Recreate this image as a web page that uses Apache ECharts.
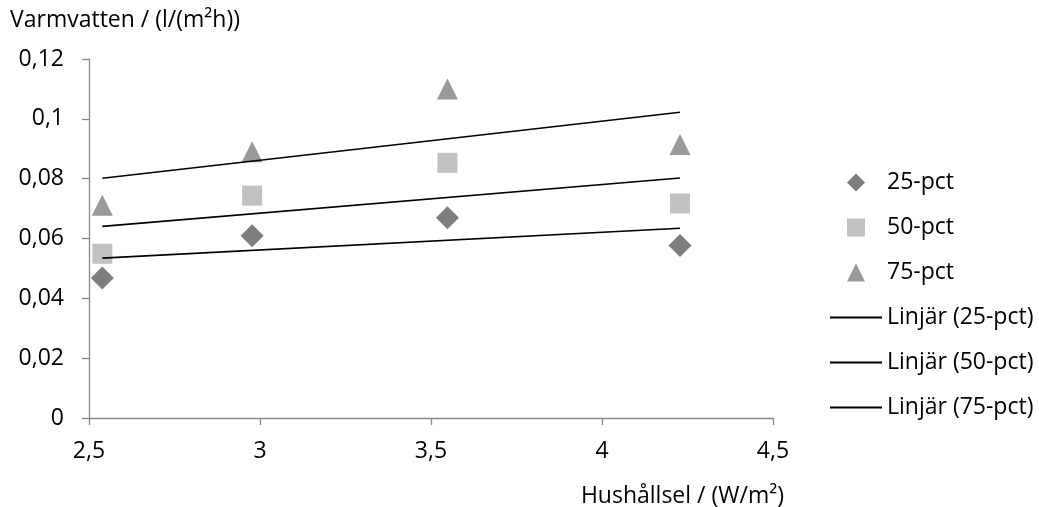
<!DOCTYPE html>
<html>
<head>
<meta charset="utf-8">
<script src="https://cdn.jsdelivr.net/npm/echarts@6/dist/echarts.min.js"></script>
<style>
  html, body { margin: 0; padding: 0; background: #fff; }
  #chart { width: 1039px; height: 507px; }
</style>
</head>
<body>
<div id="chart"></div>
<script>
// Household electricity (W/m²) per group
const hushallsel = [2.539, 2.977, 3.548, 4.228];
// Hot water use (l/(m²h)) per percentile
const pct25 = [0.0468, 0.0609, 0.0669, 0.0577];
const pct50 = [0.0549, 0.0743, 0.0853, 0.0717];
const pct75 = [0.0711, 0.0890, 0.1100, 0.0914];
const seriesNames = ['25-pct', '50-pct', '75-pct'];
const xTicks = { min: 2.5, max: 4.5, interval: 0.5 };
const yTicks = { min: 0, max: 0.12, interval: 0.02 };

const FONT = 'Open Sans';
const FS = 23;
const comma = v => String(+v.toFixed(4)).replace('.', ',');

// least-squares linear trend, drawn between the smallest and largest x
function linearTrend(xs, ys) {
  const n = xs.length;
  const mx = xs.reduce((a, b) => a + b, 0) / n;
  const my = ys.reduce((a, b) => a + b, 0) / n;
  let sxy = 0, sxx = 0;
  for (let i = 0; i < n; i++) {
    sxy += (xs[i] - mx) * (ys[i] - my);
    sxx += (xs[i] - mx) * (xs[i] - mx);
  }
  const k = sxy / sxx, m = my - k * mx;
  const x0 = Math.min(...xs), x1 = Math.max(...xs);
  return [[x0, k * x0 + m], [x1, k * x1 + m]];
}

const pts = ys => hushallsel.map((x, i) => [x, ys[i]]);
const groups = [pct25, pct50, pct75];
const symbols = ['diamond', 'rect', 'triangle'];
const sizes = [23, 20, 21];
const colors = ['#5e5e5e', '#b1b1b1', '#808080'];
// legend glyphs as paths so they keep their proportions inside the wide legend slot
const legendIcons = [
  'path://M10,0L20,10L10,20L0,10Z',
  'path://M0,0H20V20H0Z',
  'path://M10,0L20,20H0Z'
];
const lineIcon = 'path://M0,0H52V2H0Z';

const series = [];
const legendData = [];
groups.forEach((ys, i) => {
  series.push({
    name: seriesNames[i],
    type: 'scatter',
    symbol: symbols[i],
    symbolSize: sizes[i],
    itemStyle: { color: colors[i] },
    data: pts(ys)
  });
  legendData.push({ name: seriesNames[i], icon: legendIcons[i] });
});
groups.forEach((ys, i) => {
  const name = 'Linjär (' + seriesNames[i] + ')';
  series.push({
    name: name,
    type: 'line',
    showSymbol: false,
    symbol: 'none',
    lineStyle: { color: '#000', width: 1.6 },
    itemStyle: { color: '#000' },
    data: linearTrend(hushallsel, ys)
  });
  legendData.push({ name: name, icon: lineIcon });
});

const chart = echarts.init(document.getElementById('chart'));
chart.setOption({
  animation: false,
  backgroundColor: '#fff',
  textStyle: { fontFamily: FONT },
  title: [
    { text: 'Varmvatten / (l/(m²h))', left: 5, top: 4,
      textStyle: { fontFamily: FONT, fontSize: FS, fontWeight: 'normal', color: '#000' } },
    { text: 'Hushållsel / (W/m²)', right: 250, top: 480,
      textStyle: { fontFamily: FONT, fontSize: FS, fontWeight: 'normal', color: '#000' } }
  ],
  grid: { left: 89, right: 266, top: 59, bottom: 89 },
  legend: {
    orient: 'vertical',
    left: 825,
    top: 166,
    itemWidth: 52,
    itemHeight: 18,
    itemGap: 22,
    symbolKeepAspect: true,
    textStyle: { fontFamily: FONT, fontSize: FS, color: '#000', lineHeight: 23 },
    data: legendData
  },
  xAxis: {
    type: 'value',
    min: xTicks.min, max: xTicks.max, interval: xTicks.interval,
    splitLine: { show: false },
    axisLine: { lineStyle: { color: '#898989', width: 1.3 } },
    axisTick: { show: true, length: 7, lineStyle: { color: '#898989', width: 1.3 } },
    axisLabel: { margin: 22, fontFamily: FONT, fontSize: FS, color: '#000', formatter: comma }
  },
  yAxis: {
    type: 'value',
    min: yTicks.min, max: yTicks.max, interval: yTicks.interval,
    splitLine: { show: false },
    axisLine: { show: true, lineStyle: { color: '#898989', width: 1.3 } },
    axisTick: { show: true, length: 7, lineStyle: { color: '#898989', width: 1.3 } },
    axisLabel: { margin: 25, fontFamily: FONT, fontSize: FS, color: '#000', formatter: comma }
  },
  series: series
});
</script>
</body>
</html>
